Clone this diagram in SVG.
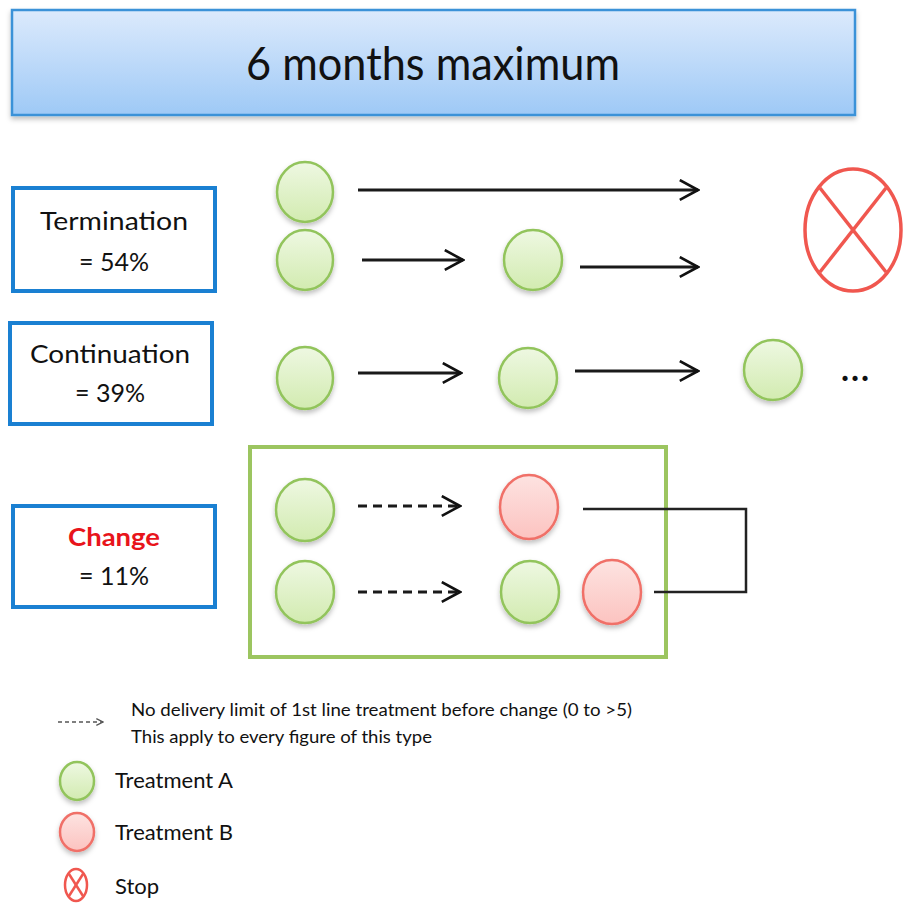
<svg xmlns="http://www.w3.org/2000/svg" width="904" height="903" viewBox="0 0 904 903">
<defs>
<linearGradient id="gTop" x1="0" y1="0" x2="0" y2="1"><stop offset="0" stop-color="#dceafc"/><stop offset="1" stop-color="#9ec9f6"/></linearGradient>
<linearGradient id="gGreen" x1="0" y1="0" x2="0" y2="1"><stop offset="0" stop-color="#eef8e2"/><stop offset="1" stop-color="#d2ebb0"/></linearGradient>
<linearGradient id="gRed" x1="0" y1="0" x2="0" y2="1"><stop offset="0" stop-color="#fde3e1"/><stop offset="1" stop-color="#fcc3c0"/></linearGradient>
<filter id="sh" x="-20%" y="-20%" width="140%" height="150%"><feDropShadow dx="0" dy="3" stdDeviation="2.5" flood-color="#000" flood-opacity="0.25"/></filter>
<marker id="ah" viewBox="0 0 12 12" refX="11" refY="6" markerWidth="23" markerHeight="23" markerUnits="userSpaceOnUse" orient="auto"><path d="M1.5,0.8 L11,6 L1.5,11.2" fill="none" stroke="#111" stroke-width="1.35"/></marker>
<marker id="ahs" viewBox="0 0 12 12" refX="11" refY="6" markerWidth="8" markerHeight="8" markerUnits="userSpaceOnUse" orient="auto"><path d="M1,1 L11,6 L1,11" fill="none" stroke="#555" stroke-width="2"/></marker>
</defs>
<style>
text{font-family:Lato,"Liberation Sans",sans-serif;fill:#111}
.lbl{font-size:25px;text-anchor:middle}
.box{fill:#fff;stroke:#1a80d2;stroke-width:4}
.ga{fill:url(#gGreen);stroke:#92c45c;stroke-width:2.5}
.rb{fill:url(#gRed);stroke:#f07068;stroke-width:2.5}
.ar{stroke:#1a1a1a;stroke-width:2.8;fill:none;marker-end:url(#ah)}
.da{stroke:#1a1a1a;stroke-width:2.8;fill:none;stroke-dasharray:9 6;marker-end:url(#ah)}
.leg{font-size:22px}
</style>
<rect width="904" height="903" fill="#fff"/>
<g id="header">
<rect x="12" y="10" width="843" height="105" fill="url(#gTop)" stroke="#3a92d8" stroke-width="2.5" filter="url(#sh)"/>
<text x="433" y="80" font-size="46" text-anchor="middle" textLength="374" lengthAdjust="spacingAndGlyphs">6 months maximum</text>
</g>
<g id="termination">
<rect class="box" x="13" y="188" width="202" height="103"/>
<text class="lbl" x="114" y="230" textLength="148" lengthAdjust="spacingAndGlyphs">Termination</text>
<text class="lbl" x="114" y="271">= 54%</text>
</g>
<g id="continuation">
<rect class="box" x="10" y="323" width="202" height="101"/>
<text class="lbl" x="110" y="363" textLength="160" lengthAdjust="spacingAndGlyphs">Continuation</text>
<text class="lbl" x="110" y="402">= 39%</text>
</g>
<g id="change">
<rect class="box" x="13" y="506" width="202" height="101"/>
<text class="lbl" x="114" y="546" font-weight="bold" style="fill:#e8141b" textLength="92" lengthAdjust="spacingAndGlyphs">Change</text>
<text class="lbl" x="114" y="585">= 11%</text>
</g>
<g id="change-group">
<rect x="250" y="447" width="416" height="210" fill="none" stroke="#9cc560" stroke-width="4"/>
</g>
<g id="stop">
<ellipse cx="853" cy="230" rx="48" ry="61" fill="#fff" stroke="#f0574f" stroke-width="3.5"/>
<line x1="820" y1="188" x2="886" y2="272" stroke="#f0574f" stroke-width="3.5"/>
<line x1="886" y1="188" x2="820" y2="272" stroke="#f0574f" stroke-width="3.5"/>
</g>
<g id="nodes" filter="url(#sh)">
<g id="t1a"><ellipse class="ga" cx="305" cy="192" rx="28" ry="30"/></g>
<g id="t2a"><ellipse class="ga" cx="305" cy="260" rx="28" ry="30"/></g>
<g id="t2b"><ellipse class="ga" cx="533" cy="260" rx="29" ry="30"/></g>
<g id="c1"><ellipse class="ga" cx="305" cy="378" rx="28" ry="31"/></g>
<g id="c2"><ellipse class="ga" cx="528" cy="378" rx="29" ry="30"/></g>
<g id="c3"><ellipse class="ga" cx="773" cy="370" rx="29" ry="30"/></g>
<g id="h1a"><ellipse class="ga" cx="305" cy="510" rx="29" ry="31"/></g>
<g id="h1b"><ellipse class="rb" cx="529" cy="507" rx="29" ry="32"/></g>
<g id="h2a"><ellipse class="ga" cx="305" cy="592" rx="29" ry="31"/></g>
<g id="h2b"><ellipse class="ga" cx="530" cy="592" rx="29" ry="31"/></g>
<g id="h2c"><ellipse class="rb" cx="612" cy="592" rx="29" ry="32"/></g>
</g>
<text x="856" y="381" font-size="34" text-anchor="middle" font-weight="bold" letter-spacing="2">...</text>
<g id="connectors">
<line class="ar" x1="358" y1="190" x2="698" y2="190"/>
<line class="ar" x1="362" y1="260" x2="463" y2="260"/>
<line class="ar" x1="580" y1="267" x2="698" y2="267"/>
<line class="ar" x1="358" y1="373" x2="461" y2="373"/>
<line class="ar" x1="575" y1="371" x2="698" y2="371"/>
<line class="da" x1="358" y1="506" x2="460" y2="506"/>
<line class="da" x1="358" y1="592" x2="460" y2="592"/>
<polyline points="583,509 746,509 746,592 654,592" fill="none" stroke="#222" stroke-width="2.5"/>
</g>
<g id="legend">
<line x1="58" y1="722" x2="103" y2="722" stroke="#555" stroke-width="1.5" stroke-dasharray="4 3" marker-end="url(#ahs)"/>
<text x="131" y="716" font-size="17" textLength="501" lengthAdjust="spacingAndGlyphs">No delivery limit of 1st line treatment before change (0 to &gt;5)</text>
<text x="131" y="743" font-size="17" textLength="301" lengthAdjust="spacingAndGlyphs">This apply to every figure of this type</text>
<ellipse class="ga" cx="77" cy="781" rx="17" ry="19" filter="url(#sh)"/>
<text class="leg" x="115" y="788">Treatment A</text>
<ellipse class="rb" cx="77" cy="832" rx="17" ry="19" filter="url(#sh)"/>
<text class="leg" x="115" y="840">Treatment B</text>
<ellipse cx="76" cy="885" rx="11" ry="16" fill="#fff" stroke="#f0574f" stroke-width="2.5"/>
<line x1="69" y1="874" x2="83" y2="896" stroke="#f0574f" stroke-width="2.5"/>
<line x1="83" y1="874" x2="69" y2="896" stroke="#f0574f" stroke-width="2.5"/>
<text class="leg" x="115" y="894">Stop</text>
</g>
</svg>
